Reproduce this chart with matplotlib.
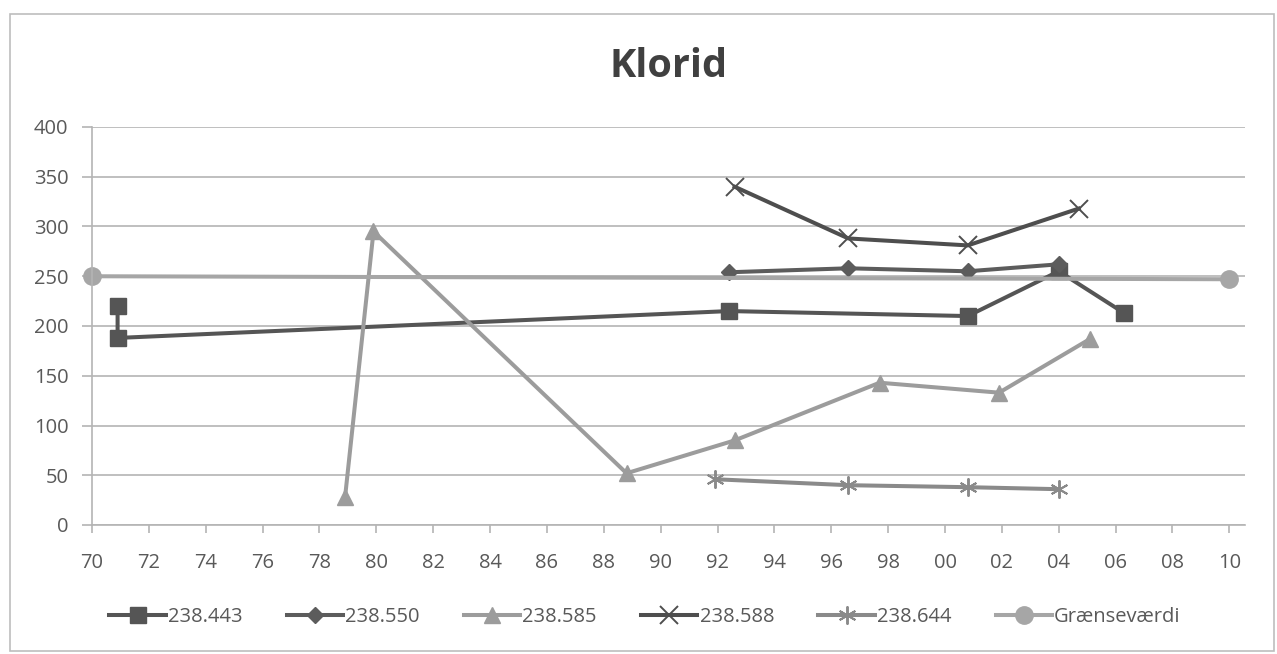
import numpy as np
import matplotlib.pyplot as plt
from matplotlib.patches import Rectangle

plt.rcParams['font.family'] = ['Open Sans', 'DejaVu Sans']

# Klorid (mg/l) measured in each well, x = year
years_443 = [1970.9, 1970.9, 1992.4, 2000.8, 2004.0, 2006.3]
vals_443 = [220, 188, 215, 210, 255, 213]

years_550 = [1992.4, 1996.6, 2000.8, 2004.0]
vals_550 = [254, 258, 255, 262]

years_585 = [1978.9, 1979.9, 1988.8, 1992.6, 1997.7, 2001.9, 2005.1]
vals_585 = [28, 295, 52, 85, 143, 133, 187]

years_588 = [1992.6, 1996.6, 2000.8, 2004.7]
vals_588 = [340, 288, 281, 318]

years_644 = [1991.9, 1996.6, 2000.8, 2004.0]
vals_644 = [46, 40, 38, 36]

years_limit = [1970, 2010]
vals_limit = [250, 247]

xticks = list(range(1970, 2011, 2))
xlabels = ['%02d' % (y % 100) for y in xticks]
yticks = list(range(0, 401, 50))

fig = plt.figure(figsize=(12.77, 6.54), dpi=100)
ax = fig.add_axes([92/1277, 1 - 525/654, (1245 - 92)/1277, (525 - 127)/654])

txt = '#595959'
grid = '#b4b4b4'

ax.plot(years_443, vals_443, color='#555555', lw=2.9, marker='s', ms=11.5, label='238.443')
ax.plot(years_550, vals_550, color='#5c5c5c', lw=2.9, marker='D', ms=8, label='238.550')
ax.plot(years_585, vals_585, color='#9c9c9c', lw=2.9, marker='^', ms=12, label='238.585')
ax.plot(years_588, vals_588, color='#4e4e4e', lw=2.9, marker='x', ms=13, mew=1.4, label='238.588')
ax.plot(years_644, vals_644, color='#8a8a8a', lw=2.9, marker=(6, 2, 0), ms=13, mew=1.4, label='238.644')
ax.plot(years_limit, vals_limit, color='#a6a6a6', lw=2.9, marker='o', ms=12.5, label='Grænseværdi',
        clip_on=False)

ax.set_xlim(1970, 2010.55)
ax.set_ylim(0, 400)
ax.set_xticks(xticks)
ax.set_xticklabels(xlabels)
ax.set_yticks(yticks)
ax.yaxis.grid(True, color=grid, lw=1.2)
ax.set_axisbelow(True)
for side in ['top', 'right']:
    ax.spines[side].set_visible(False)
for side in ['left', 'bottom']:
    ax.spines[side].set_color(grid)
    ax.spines[side].set_linewidth(1.2)
ax.tick_params(axis='both', colors=grid, labelcolor=txt, labelsize=14.5, width=1.2)
ax.tick_params(axis='x', length=6, pad=14)
ax.tick_params(axis='y', length=7, pad=10)

ax.set_title('Klorid', fontsize=28.5, fontweight='bold', color='#404040', pad=36)

leg = fig.legend(loc='center', bbox_to_anchor=(0.505, 1 - 617/654), ncol=6, frameon=False,
                 fontsize=14.5, handlelength=2.8, handletextpad=0.1, columnspacing=2.2,
                 numpoints=1)
for t in leg.get_texts():
    t.set_color(txt)

# outer chart border
fig.patches.append(Rectangle((10/1277, 3/654), 1264/1277, 637/654, transform=fig.transFigure,
                             fill=False, edgecolor='#bdbdbd', lw=1.2))

fig.savefig('out.png', dpi=100, facecolor='white')
